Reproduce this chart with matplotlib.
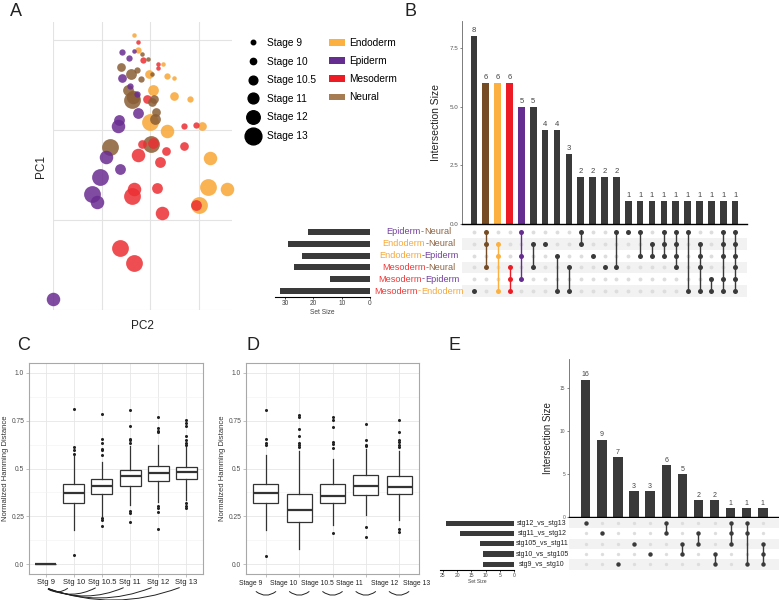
import matplotlib
matplotlib.use("Agg")
import matplotlib.pyplot as plt
from matplotlib.lines import Line2D
from matplotlib.patches import Patch

plt.rcParams["font.family"] = ["Liberation Sans", "DejaVu Sans"]

W, H = 779, 600

# ===========================================
# DATA
# ===========================================
# --- A: PCA scatter ---
pc2 = [1.66, 1.76, 1.43, 1.67, 1.76, 1.83, 1.56, 1.85, 1.95, 2.17, 2.27, 2.17, 1.40, 1.73,
       1.60, 1.97, 2.05, 2.36, 2.50, 1.42, 1.81, 1.59, 1.55, 2.07, 1.64, 1.63, 1.93, 2.08,
       2.49, 2.82, 2.05, 1.73, 1.76, 2.12, 1.36, 1.33, 1.99, 2.10, 2.34, 2.71, 2.94, 3.07,
       1.18, 1.83, 2.03, 2.07, 2.71, 2.32, 1.09, 1.75, 2.21, 3.24, 1.38, 0.96, 1.66, 2.15,
       3.20, 3.58, 0.80, 1.63, 0.91, 3.02, 2.95, 2.24, 1.38, 1.66, 0.01]
pc1 = [3.06, 2.98, 2.87, 2.88, 2.89, 2.84, 2.80, 2.78, 2.79, 2.73, 2.73, 2.69, 2.70, 2.67,
       2.62, 2.62, 2.62, 2.60, 2.58, 2.58, 2.57, 2.49, 2.44, 2.45, 2.37, 2.33, 2.35, 2.35,
       2.38, 2.34, 2.31, 2.40, 2.19, 2.20, 2.11, 2.04, 2.09, 2.12, 1.99, 2.04, 2.06, 2.04,
       1.81, 1.85, 1.84, 1.86, 1.82, 1.77, 1.70, 1.72, 1.64, 1.69, 1.57, 1.48, 1.34, 1.36,
       1.37, 1.34, 1.29, 1.27, 1.20, 1.17, 1.17, 1.08, 0.69, 0.52, 0.12]
tissue = ["En", "Me", "Ep", "Ep", "En", "Ne", "Ep", "Me", "Ne", "Me", "En", "Me", "Ne", "Ne",
          "Ne", "En", "Ne", "En", "En", "Ep", "Ne", "Ep", "Ne", "En", "Ne", "Ne", "Me", "Ne",
          "En", "En", "Ne", "Ep", "Ep", "Ne", "Ep", "Ep", "En", "Ne", "En", "Me", "Me", "En",
          "Ne", "Me", "Ne", "Me", "Me", "Me", "Ep", "Me", "Me", "En", "Ep", "Ep", "Me", "Me",
          "En", "En", "Ep", "Me", "Ep", "En", "Me", "Me", "Me", "Me", "Ep"]
stage = [9, 9, 10, 9, 10, 9, 10, 10, 9, 9, 9, 9, 10.5, 10,
         11, 10.5, 9, 10, 9, 10.5, 10, 10, 11, 11, 12, 13, 10.5, 10.5,
         10.5, 10, 10.5, 10, 11, 10.5, 11, 12, 13, 11, 12, 10, 10, 10.5,
         13, 10.5, 13, 11, 10.5, 10.5, 12, 12, 11, 12, 11, 13, 12, 11,
         13, 12, 13, 13, 12, 13, 11, 12, 13, 13, 12]

tissue_names = ["Endoderm", "Epiderm", "Mesoderm", "Neural"]
stage_values = [9, 10, 10.5, 11, 12, 13]
stage_names = ["Stage 9", "Stage 10", "Stage 10.5", "Stage 11", "Stage 12", "Stage 13"]

# --- B: upset of tissue pairs ---
b_sets = [("Epiderm", "Neural"), ("Endoderm", "Neural"), ("Endoderm", "Epiderm"),
          ("Mesoderm", "Neural"), ("Mesoderm", "Epiderm"), ("Mesoderm", "Endoderm")]
b_set_size = [22, 29, 24, 27, 14, 32]
b_inter = [8, 6, 6, 6, 5, 5, 4, 4, 3, 2, 2, 2, 2, 1, 1, 1, 1, 1, 1, 1, 1, 1, 1]
b_members = [[5], [0, 1, 3], [1, 2, 5], [3, 4, 5], [0, 2, 4], [1, 3], [1], [2, 5], [3, 5],
             [0, 1], [2], [3], [0, 3], [0], [0, 2], [1, 2], [0, 1, 2], [0, 1, 2, 3], [0, 5],
             [1, 2, 3, 5], [4, 5], [0, 1, 2, 4, 5], [0, 1, 2, 3, 4, 5]]
b_highlight = {1: "Neural", 2: "Endoderm", 3: "Mesoderm", 4: "Epiderm"}

# --- C: hamming distance vs stage 9 ---
c_labels = ["Stg 9", "Stg 10", "Stg 10.5", "Stg 11", "Stg 12", "Stg 13"]
c_q1 = [0.0, 0.318, 0.365, 0.411, 0.434, 0.443]
c_med = [0.0, 0.373, 0.408, 0.460, 0.477, 0.483]
c_q3 = [0.0, 0.420, 0.446, 0.491, 0.512, 0.509]
c_lo = [0.0, 0.179, 0.252, 0.312, 0.325, 0.335]
c_hi = [0.0, 0.568, 0.533, 0.616, 0.625, 0.613]
c_out = [[],
         [0.811, 0.611, 0.594, 0.578, 0.047],
         [0.786, 0.655, 0.635, 0.603, 0.594, 0.570, 0.241, 0.231, 0.200],
         [0.804, 0.720, 0.655, 0.646, 0.634, 0.278, 0.269, 0.220],
         [0.769, 0.710, 0.698, 0.689, 0.304, 0.292, 0.274, 0.186],
         [0.752, 0.738, 0.724, 0.668, 0.646, 0.634, 0.622, 0.321, 0.304, 0.295]]

# --- D: hamming distance between consecutive stages ---
d_labels = ["Stage 9", "Stage 10", "Stage 10.5", "Stage 11", "Stage 12", "Stage 13"]
d_q1 = [0.318, 0.222, 0.321, 0.361, 0.365]
d_med = [0.370, 0.286, 0.359, 0.408, 0.405]
d_q3 = [0.417, 0.368, 0.420, 0.464, 0.460]
d_lo = [0.177, 0.082, 0.208, 0.260, 0.231]
d_hi = [0.571, 0.590, 0.547, 0.600, 0.590]
d_out = [[0.807, 0.656, 0.634, 0.622, 0.043],
         [0.778, 0.767, 0.708, 0.668, 0.634, 0.622, 0.613],
         [0.767, 0.755, 0.715, 0.639, 0.630, 0.608, 0.165],
         [0.733, 0.651, 0.625, 0.616, 0.196, 0.144],
         [0.755, 0.689, 0.651, 0.637, 0.625, 0.613, 0.186, 0.168]]

# --- E: upset of stage comparisons ---
e_sets = ["stg12_vs_stg13", "stg11_vs_stg12", "stg105_vs_stg11", "stg10_vs_stg105", "stg9_vs_stg10"]
e_set_size = [24, 19, 12, 11, 11]
e_inter = [16, 9, 7, 3, 3, 6, 5, 2, 2, 1, 1, 1]
e_members = [[0], [1], [4], [2], [3], [0, 1], [2, 3], [1, 2], [3, 4], [0, 1, 2], [0, 1, 4], [2, 3, 4]]

# ===========================================
# STYLE
# ===========================================
point_colors = {"En": "#F8A635", "Ep": "#6A2C91", "Me": "#EC2F33", "Ne": "#8A5E35"}
legend_colors = ["#FBB040", "#662D91", "#ED1C24", "#A67C52"]
text_colors = {"Endoderm": "#F7A83A", "Epiderm": "#7440A0", "Mesoderm": "#EE3B3B", "Neural": "#8E6544"}
bar_colors = {"Endoderm": "#FBB040", "Epiderm": "#662D91", "Mesoderm": "#ED1C24", "Neural": "#754C24"}
stage_diam_px = [4.5, 6.3, 8.7, 10.8, 13.5, 16.8]
DARK = "#3A3A3A"


def px_axes(fig, x0, y0, x1, y1):
    return fig.add_axes([x0 / W, 1 - y1 / H, (x1 - x0) / W, (y1 - y0) / H])


def upset(fig, bar_box, mat_box, set_box, inter, members, set_sizes, colors, shaded,
          ymax, yticks, yticklabels, setmax, set_ticks, fs):
    n_cols = len(inter)
    n_rows = len(set_sizes)
    xlim = fs["xlim"]

    ax = px_axes(fig, *bar_box)
    ax.bar(range(n_cols), inter, width=fs["bw"], color=colors, zorder=2)
    for i, v in enumerate(inter):
        ax.text(i, v + ymax * 0.008, str(v), ha="center", va="bottom",
                fontsize=fs["num"], color="#444444")
    ax.set_xlim(*xlim)
    ax.set_ylim(0, ymax)
    ax.set_xticks([])
    ax.set_yticks(yticks)
    ax.set_yticklabels(yticklabels, fontsize=fs["tick"], color="#555555")
    ax.tick_params(axis="y", length=1.5, width=0.5, color="#555555", pad=1)
    for s in ["top", "right"]:
        ax.spines[s].set_visible(False)
    ax.spines["left"].set_color("#666666")
    ax.spines["left"].set_linewidth(0.6)
    ax.spines["bottom"].set_color("black")
    ax.spines["bottom"].set_linewidth(1.0)
    ax.set_ylabel("Intersection Size", fontsize=fs["ylab"], color="#222222", labelpad=fs["lpad"])

    mx = px_axes(fig, *mat_box)
    mx.set_xlim(*xlim)
    mx.set_ylim(n_rows - 0.5, -0.5)
    mx.axis("off")
    for r in shaded:
        mx.axhspan(r - 0.5, r + 0.5, color="#F2F2F2", lw=0, zorder=0)
    for c, mem in enumerate(members):
        empty = [r for r in range(n_rows) if r not in mem]
        mx.plot([c] * len(empty), empty, "o", ms=fs["ms0"], color="#DDDDDD", mec="none", zorder=1)
        mx.plot([c, c], [min(mem), max(mem)], color=colors[c], lw=1.0, zorder=2)
        mx.plot([c] * len(mem), mem, "o", ms=fs["ms1"], color=colors[c], mec="none", zorder=3)

    sx = px_axes(fig, *set_box)
    sx.barh(range(n_rows), set_sizes, height=0.5, color=DARK)
    sx.set_xlim(setmax, 0)
    sx.set_ylim(n_rows - 0.5, -0.5)
    sx.set_yticks([])
    sx.set_xticks(set_ticks)
    sx.set_xticklabels([str(t) for t in set_ticks], fontsize=fs["stick"], color="#444444")
    sx.tick_params(axis="x", length=1.5, width=0.5, pad=1)
    for s in ["top", "right", "left"]:
        sx.spines[s].set_visible(False)
    sx.spines["bottom"].set_linewidth(0.8)
    sx.set_xlabel("Set Size", fontsize=fs["stick"], color="#444444", labelpad=1)
    return ax, mx, sx


def box_axes(ax, n):
    ax.set_xlim(0.4, n + 0.6)
    ax.set_ylim(-0.05, 1.05)
    ax.set_yticks([0, 0.25, 0.5, 0.75, 1.0])
    ax.set_yticklabels(["0.0", "0.25", "0.5", "0.75", "1.0"], fontsize=4.8, color="#4D4D4D")
    ax.set_yticks([0.125, 0.375, 0.625, 0.875], minor=True)
    ax.set_xticks(range(1, n + 1))
    ax.grid(True, which="major", color="#E6E6E6", lw=0.6)
    ax.grid(True, which="minor", axis="y", color="#F2F2F2", lw=0.4)
    ax.set_axisbelow(True)
    for s in ax.spines.values():
        s.set_color("#A8A8A8")
        s.set_linewidth(0.8)
    ax.tick_params(which="major", length=2, width=0.5, color="#A8A8A8", pad=1.5)
    ax.tick_params(which="minor", length=0)
    ax.set_ylabel("Normalized Hamming Distance", fontsize=5.5, color="#333333", labelpad=1.5)


def make_stats(q1, med, q3, lo, hi, out):
    return [dict(q1=a, med=b, q3=c, whislo=d, whishi=e, fliers=f)
            for a, b, c, d, e, f in zip(q1, med, q3, lo, hi, out)]


box_kw = dict(widths=0.75, showcaps=False, patch_artist=True,
              boxprops=dict(facecolor="white", edgecolor="#333333", lw=0.9),
              medianprops=dict(color="#333333", lw=1.6),
              whiskerprops=dict(color="#333333", lw=0.9),
              flierprops=dict(marker="o", markersize=2.2, markerfacecolor="#222222",
                              markeredgecolor="none"))


def main():
    fig = plt.figure(figsize=(W / 100, H / 100), dpi=100)
    renderer = fig.canvas.get_renderer()

    # ---------------------------------------------------------
    # A. PCA
    # ---------------------------------------------------------
    ax = px_axes(fig, 53, 22, 232, 310)
    order = sorted(range(len(pc1)), key=lambda i: -stage[i])
    for i in order:
        d = stage_diam_px[stage_values.index(stage[i])] * 0.72
        ax.scatter(pc2[i], pc1[i], s=d ** 2, color=point_colors[tissue[i]], alpha=0.85,
                   lw=0, clip_on=False, zorder=3)
    ax.set_xlim(0, 3.69)
    ax.set_ylim(0, 3.2)
    ax.set_xticks([0, 1, 2, 3])
    ax.set_yticks([0, 1, 2, 3])
    ax.set_xticklabels([])
    ax.set_yticklabels([])
    ax.tick_params(length=0)
    ax.grid(True, color="#E3E3E3", lw=0.8)
    for s in ax.spines.values():
        s.set_visible(False)
    ax.set_xlabel("PC2", fontsize=8.5, color="#222222", labelpad=4)
    ax.set_ylabel("PC1", fontsize=8.5, color="#222222", labelpad=1)

    size_handles = [Line2D([], [], marker="o", ls="", color="black", markersize=d * 0.72)
                    for d in stage_diam_px]
    fig.legend(size_handles, stage_names, loc="upper left", bbox_to_anchor=(246 / W, 1 - 38 / H),
               frameon=False, fontsize=7.3, handlelength=1.3, handletextpad=0.8,
               labelspacing=0.85, borderpad=0, borderaxespad=0)
    tissue_handles = [Patch(facecolor=c, edgecolor="none") for c in legend_colors]
    fig.legend(tissue_handles, tissue_names, loc="upper left", bbox_to_anchor=(329 / W, 1 - 38 / H),
               frameon=False, fontsize=7.3, handlelength=1.6, handleheight=0.6,
               handletextpad=0.4, labelspacing=0.8, borderpad=0, borderaxespad=0)

    # ---------------------------------------------------------
    # B. Upset tissue pairs
    # ---------------------------------------------------------
    b_cols = [bar_colors[b_highlight[i]] if i in b_highlight else DARK for i in range(len(b_inter))]
    fs_b = dict(xlim=(-1.0, 23.0), bw=0.56, num=5.5, tick=4.5, ylab=7.5, lpad=6,
                ms0=2.8, ms1=3.6, stick=4.8)
    upset(fig, (462, 21, 747, 224), (462, 226, 747, 297), (275, 226, 370, 297),
          b_inter, b_members, b_set_size, b_cols, [1, 3, 5],
          8.64, [0, 2.5, 5, 7.5], ["0.0", "2.5", "5.0", "7.5"], 33.6, [30, 20, 10, 0], fs_b)

    row_y = [231.7 + 11.86 * r for r in range(len(b_sets))]
    for (a, b), y in zip(b_sets, row_y):
        parts = [a, "-", b]
        cols = [text_colors[a], text_colors[b], text_colors[b]]
        texts = [fig.text(0, 1 - y / H, p, color=c, fontsize=6.6, va="center", ha="left")
                 for p, c in zip(parts, cols)]
        widths = [t.get_window_extent(renderer).width for t in texts]
        x = 419 - sum(widths) / 2
        for t, w in zip(texts, widths):
            t.set_x(x / W)
            x += w

    # ---------------------------------------------------------
    # C. Boxplots vs stage 9
    # ---------------------------------------------------------
    cx = px_axes(fig, 29, 363, 203, 574)
    cx.bxp(make_stats(c_q1, c_med, c_q3, c_lo, c_hi, c_out), positions=range(1, 7), **box_kw)
    box_axes(cx, 6)
    cx.set_xticklabels(c_labels, fontsize=5.5, color="#222222")
    tr = cx.get_xaxis_transform()
    rads = [0.4, 0.27, 0.22, 0.2, 0.19]
    for k, rad in zip(range(2, 7), rads):
        cx.annotate("", xy=(k - 0.15, -0.06), xytext=(1.0, -0.065), xycoords=tr, textcoords=tr,
                    arrowprops=dict(arrowstyle="-", color="#222222", lw=0.7,
                                    connectionstyle=f"arc3,rad={rad}"), annotation_clip=False)

    # ---------------------------------------------------------
    # D. Boxplots consecutive stages
    # ---------------------------------------------------------
    dx = px_axes(fig, 246, 363, 419, 574)
    dx.bxp(make_stats(d_q1, d_med, d_q3, d_lo, d_hi, d_out), positions=range(1, 6), **box_kw)
    box_axes(dx, 5)
    dx.set_xticklabels([])
    tr = dx.get_xaxis_transform()
    for k, lab in enumerate(d_labels):
        dx.text(k + 0.55 - 0.03 * (k % 2), -0.045, lab, transform=tr, ha="center", va="center",
                fontsize=4.9, color="#222222")
    for k in range(1, 6):
        dx.annotate("", xy=(k + 0.36, -0.075), xytext=(k - 0.36, -0.075), xycoords=tr, textcoords=tr,
                    arrowprops=dict(arrowstyle="-", color="#222222", lw=0.7,
                                    connectionstyle="arc3,rad=0.45"), annotation_clip=False)

    # ---------------------------------------------------------
    # E. Upset stage comparisons
    # ---------------------------------------------------------
    fs_e = dict(xlim=(-1.04, 12.0), bw=0.58, num=5, tick=3.5, ylab=7, lpad=5,
                ms0=2.4, ms1=3.2, stick=3.6)
    upset(fig, (569, 359, 779, 517), (569, 518, 779, 569.5), (440, 518, 514.3, 569.5),
          e_inter, e_members, e_set_size, [DARK] * len(e_inter), [0, 2, 4],
          18.4, [0, 5, 10, 15], ["0", "5", "10", "15"], 26, [25, 20, 15, 10, 5, 0], fs_e)
    for r, lab in enumerate(e_sets):
        y = 523.3 + 10.25 * r
        fig.text(542 / W, 1 - y / H, lab, fontsize=5.0, color="#222222", ha="center", va="center")

    # ---------------------------------------------------------
    # Panel letters
    # ---------------------------------------------------------
    for lab, x, y in [("A", 10, 12), ("B", 405, 12), ("C", 17, 345), ("D", 247, 345), ("E", 449, 346)]:
        fig.text(x / W, 1 - y / H, lab, fontsize=13, color="#222222", ha="left", va="center")

    fig.savefig("out.png", dpi=100)


if __name__ == "__main__":
    main()
